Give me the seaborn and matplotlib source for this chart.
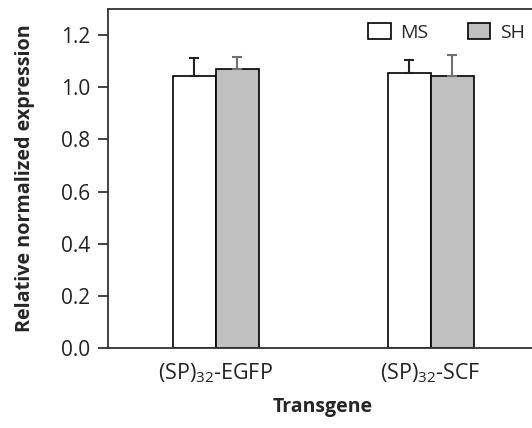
import matplotlib
matplotlib.use("Agg")
import matplotlib.pyplot as plt
import seaborn as sns
import pandas as pd

transgenes = ["(SP)$_{32}$-EGFP", "(SP)$_{32}$-SCF"]
groups = ["MS", "SH"]
ms_values = [1.043, 1.053]
sh_values = [1.068, 1.043]
ms_err = [0.070, 0.052]
sh_err = [0.048, 0.080]

df = pd.DataFrame({
    "Transgene": transgenes * 2,
    "Group": ["MS"] * 2 + ["SH"] * 2,
    "value": ms_values + sh_values,
})
errs = {"MS": ms_err, "SH": sh_err}

sns.set_style("white")
plt.rcParams["font.family"] = ["Open Sans", "DejaVu Sans"]
plt.rcParams["mathtext.fontset"] = "custom"
plt.rcParams["mathtext.rm"] = "Open Sans"
plt.rcParams["mathtext.it"] = "Open Sans"

fig = plt.figure(figsize=(5.32, 4.28), dpi=100)
ax = fig.add_axes([108 / 532, 80 / 428, 430 / 532, 339 / 428])

palette = {"MS": "white", "SH": "#c0c0c0"}
sns.barplot(data=df, x="Transgene", y="value", hue="Group", hue_order=groups,
            palette=palette, width=0.4, edgecolor="black", linewidth=1.2,
            errorbar=None, ax=ax)

err_colors = {"MS": "#222222", "SH": "#707070"}
for container, g in zip(ax.containers, groups):
    for bar, e in zip(container, errs[g]):
        xc = bar.get_x() + bar.get_width() / 2
        h = bar.get_height()
        ax.errorbar(xc, h, yerr=[[0], [e]], fmt="none", ecolor=err_colors[g],
                    elinewidth=1.5, capsize=3.5, capthick=1.5)

ax.set_xlim(-0.5, 1.5)
ax.set_ylim(0, 1.3)
ax.set_yticks([0.0, 0.2, 0.4, 0.6, 0.8, 1.0, 1.2])
ax.set_yticklabels(["0.0", "0.2", "0.4", "0.6", "0.8", "1.0", "1.2"])
ax.tick_params(axis="y", direction="out", length=7, width=1.2, labelsize=15,
               left=True, colors="#222222", pad=6)
ax.tick_params(axis="x", length=0, labelsize=15.5, pad=10, colors="#222222")
for s in ax.spines.values():
    s.set_color("#333333")
    s.set_linewidth(1.3)

ax.set_xlabel("Transgene", fontsize=14, fontweight="bold", labelpad=8)
ax.set_ylabel("Relative normalized expression", fontsize=14.2, fontweight="bold")
ax.yaxis.set_label_coords(-0.17, 0.5)

ax.legend(loc="upper left", bbox_to_anchor=(0.565, 1.01), ncol=2, frameon=False,
          fontsize=14, handlelength=1.15, handleheight=0.85, columnspacing=2.0,
          handletextpad=0.5)

fig.savefig("out.png", dpi=100)
